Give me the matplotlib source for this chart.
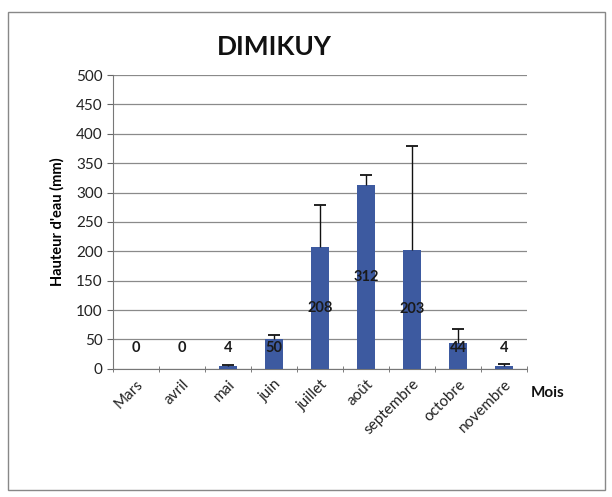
import matplotlib
matplotlib.use("Agg")
import matplotlib.pyplot as plt
from matplotlib.patches import Rectangle
import numpy as np

months = ["Mars", "avril", "mai", "juin", "juillet", "août", "septembre", "octobre", "novembre"]
values = [0, 0, 4, 50, 208, 312, 203, 44, 4]
errors = [0, 0, 3, 8, 70, 18, 177, 24, 4]
labels = ["0", "0", "4", "50", "208", "312", "203", "44", "4"]
yticks = [0, 50, 100, 150, 200, 250, 300, 350, 400, 450, 500]

plt.rcParams['font.family'] = ['Lato', 'DejaVu Sans']

fig = plt.figure(figsize=(6.12, 4.97), dpi=100)
ax = fig.add_axes([0.185, 0.258, 0.676, 0.591])

x = np.arange(len(months))
vals = np.array(values, dtype=float)
errs = np.array(errors, dtype=float)
bar_color = "#3d5aa0"
ax.bar(x, vals, width=0.4, color=bar_color, zorder=3)
m = errs > 0
eb = ax.errorbar(x[m], vals[m], yerr=[np.zeros(m.sum()), errs[m]], fmt='none',
                 ecolor='#111111', elinewidth=1, capsize=4, capthick=1.3, zorder=4)
# keep only the upper caps
caps = eb[1]
if len(caps) == 2:
    caps[0].set_visible(False)

for xi, v, lab in zip(x, values, labels):
    ax.text(xi, max(v / 2, 36), lab, ha='center', va='center', fontsize=10.5,
            fontweight='bold', color='#1a1a1a', zorder=5)

ax.set_xlim(-0.5, len(months) - 0.5)
ax.set_ylim(0, 500)
ax.set_yticks(yticks)
ax.set_yticklabels([str(t) for t in yticks], fontsize=11, color='#222222')
ax.yaxis.grid(True, color='#8a8a8a', linewidth=0.9, zorder=0)
ax.set_axisbelow(True)

ax.set_xticks(x)
ax.set_xticklabels(months, rotation=45, ha='right', rotation_mode='anchor',
                   fontsize=11, color='#222222')
ax.tick_params(axis='x', length=0, pad=6)
ax.set_xticks(np.arange(-0.5, len(months), 1), minor=True)
ax.tick_params(axis='x', which='minor', length=4, color='#666666', direction='inout')
ax.tick_params(axis='y', length=4, color='#666666', direction='out')

for s in ['top', 'right']:
    ax.spines[s].set_visible(False)
ax.spines['left'].set_color('#777777')
ax.spines['bottom'].set_color('#777777')

ax.set_ylabel("Hauteur d'eau (mm)", fontsize=10.5, fontweight='bold', labelpad=8)
fig.text(0.449, 0.905, "DIMIKUY", ha='center', va='center', fontsize=19, fontweight='bold', color='#111111')
fig.text(0.868, 0.21, "Mois", ha='left', va='center', fontsize=11, fontweight='bold', color='#111111')

fig.patches.append(Rectangle((0.013, 0.015), 0.975, 0.96, transform=fig.transFigure,
                             fill=False, edgecolor='#888888', linewidth=1))

fig.savefig("out.png", dpi=100)
